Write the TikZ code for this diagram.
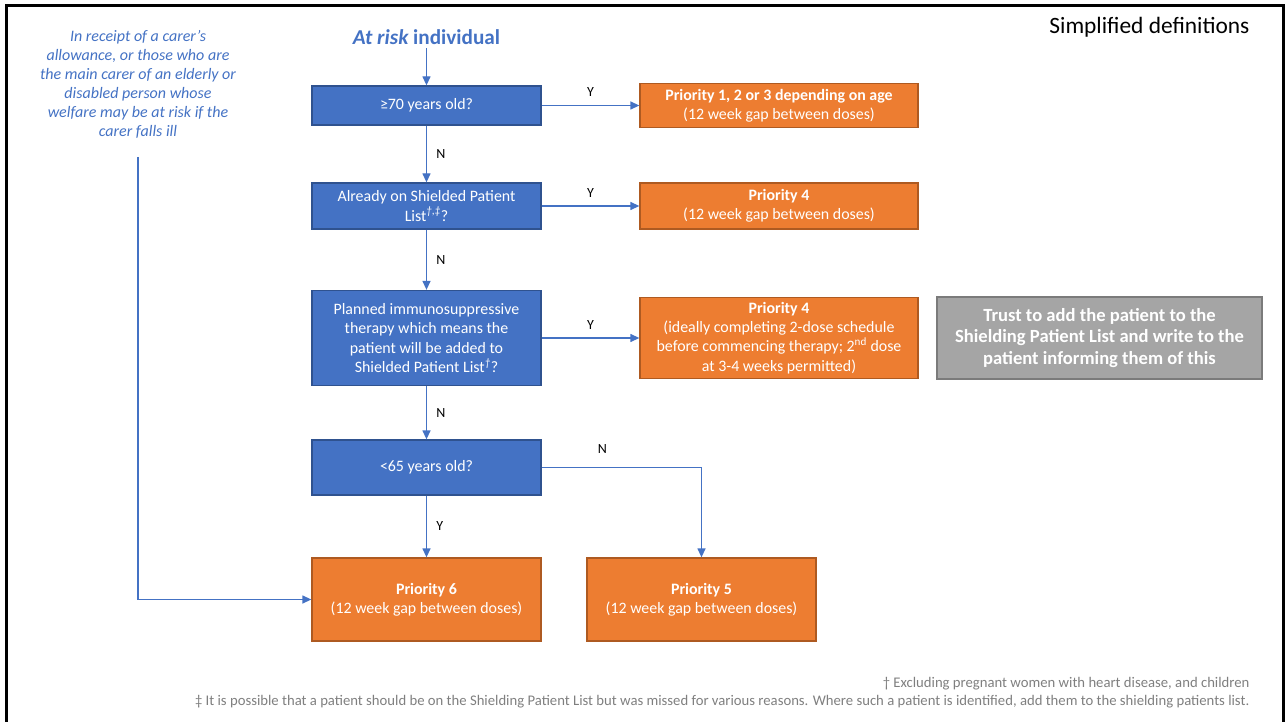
\documentclass[tikz,border=0pt]{standalone}
\usepackage{fontspec}
\setmainfont{Carlito}
\usetikzlibrary{arrows.meta}
\definecolor{qblue}{HTML}{4472C4}
\definecolor{qblueline}{HTML}{2F528F}
\definecolor{porange}{HTML}{ED7D31}
\definecolor{porangeline}{HTML}{AE5A21}
\definecolor{tgray}{HTML}{A5A5A5}
\definecolor{tgrayline}{HTML}{7B7B7B}
\definecolor{fngray}{HTML}{7F7F7F}
\begin{document}
\begin{tikzpicture}[x=1pt,y=-1pt,
 q/.style={draw=qblueline, fill=qblue, text=white, line width=1.3pt, minimum width=229pt, align=center, font=\fontsize{15.9}{19.3}\selectfont},
 pr/.style={q, draw=porangeline, fill=porange, minimum width=278pt},
 yn/.style={font=\fontsize{14}{16}\selectfont, text=black},
 arr/.style={draw=qblue, line width=1.3pt, -{Triangle[length=9pt,width=8pt]}}]
\useasboundingbox (0,0) rectangle (1286,722);
\draw[line width=3pt] (6,722) -- (6,6) -- (1283,6) -- (1283,722);
\node[anchor=east, font=\fontsize{23.4}{26}\selectfont] (title) at (1253,27) {Simplified definitions};
% left-hand note
\node[align=center, text=qblue, font=\itshape\fontsize{16}{19}\selectfont] (carer) at (138,84)
 {In receipt of a carer’s\\allowance, or those who are\\the main carer of an elderly or\\disabled person whose\\welfare may be at risk if the\\carer falls ill};
\coordinate (c0) at (138,157);
\node[text=qblue, font=\bfseries\fontsize{21.2}{24}\selectfont] (risk) at (426.5,37) {{\itshape At risk} individual};
% questions
\node[q, minimum height=39pt] (q1) at (426.5,105.5) {≥70 years old?};
\node[q, minimum height=46pt] (q2) at (426.5,206) {Already on Shielded Patient\\List\textsuperscript{\itshape\dag,\ddag}?};
\node[q, minimum height=95pt] (q3) at (426.5,338) {Planned immunosuppressive\\therapy which means the\\patient will be added to\\Shielded Patient List\textsuperscript{\itshape\dag}?};
\node[q, minimum height=55pt] (q4) at (426.5,467.5) {<65 years old?};
% outcomes
\node[pr, minimum height=44pt] (p1) at (779,105.5) {\textbf{Priority 1, 2 or 3 depending on age}\\(12 week gap between doses)};
\node[pr, minimum height=46pt] (p2) at (779,206) {\textbf{Priority 4}\\(12 week gap between doses)};
\node[pr, minimum height=81pt] (p3) at (779,338) {\textbf{Priority 4}\\(ideally completing 2-dose schedule\\before commencing therapy; 2\textsuperscript{nd} dose\\at 3-4 weeks permitted)};
\node[pr, minimum width=229pt, minimum height=83pt] (p6) at (426.5,599.5) {\textbf{Priority 6}\\(12 week gap between doses)};
\node[pr, minimum width=229pt, minimum height=83pt] (p5) at (701.5,599.5) {\textbf{Priority 5}\\(12 week gap between doses)};
\node[q, draw=tgrayline, fill=tgray, minimum width=325pt, minimum height=82pt, font=\bfseries\fontsize{18.6}{21.5}\selectfont] (trust) at (1099.5,338)
 {Trust to add the patient to the\\Shielding Patient List and write to the\\patient informing them of this};
% connectors
\draw[arr] (risk) -- (q1);
\foreach \a/\b in {q1/q2, q2/q3, q3/q4}
 \draw[arr] (\a) -- node[yn, midway, right=6pt] {N} (\b);
\foreach \a/\b in {q1/p1, q2/p2, q3/p3}
 \draw[arr] (\a) -- node[yn, midway, above=5pt] {Y} (\b);
\draw[arr] (q4) -- node[yn, midway, right=6pt] {Y} (p6);
\draw[arr] (q4.east) -- node[yn, pos=.38, above=10pt] {N} (q4.east -| p5) -- (p5);
\draw[arr] (c0) |- (p6);
% footnotes
\node[anchor=east, align=right, text=fngray, font=\fontsize{14.7}{18}\selectfont] (notes) at (1253,693)
 {\dag\ Excluding pregnant women with heart disease, and children\\\ddag\ It is possible that a patient should be on the Shielding Patient List but was missed for various reasons. Where such a patient is identified, add them to the shielding patients list.};
\end{tikzpicture}
\end{document}
